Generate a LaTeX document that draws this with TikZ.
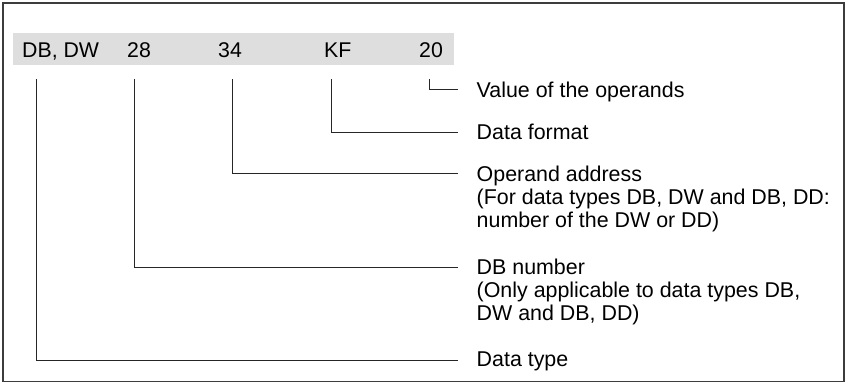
\documentclass[tikz,border=0pt]{standalone}
\usepackage{fontspec}
\setmainfont{Liberation Sans}
\usetikzlibrary{positioning,calc}
\definecolor{bandgray}{HTML}{DEDEDE}
\definecolor{framegray}{HTML}{3C3C3C}

\begin{document}
\begin{tikzpicture}[x=1pt,y=-1pt,
  field/.style={anchor=base west,inner sep=0pt,font=\fontsize{21.3}{23}\selectfont},
  lbl/.style={anchor=north west,inner sep=0pt,align=left,font=\fontsize{21.4}{23}\selectfont},
  lead/.style={line width=1pt,black!85}]
\useasboundingbox (0,0) rectangle (847,383);
% frame and grey band
\draw[framegray,line width=1.1pt] (3,3) rectangle (844,381.5);
\fill[bandgray] (13,33) rectangle (454,65);
% fields of the line
\node[field] (dtype) at (22,57.5) {DB, DW};
\node[field] (dbno) at (127,57.5) {28};
\node[field] (addr) at (218,57.5) {34};
\node[field] (fmt) at (324,57.5) {KF};
\node[field] (val) at (419,57.5) {20};
% explanations
\node[lbl] (valtxt) at (476.5,81.5) {Value of the operands};
\node[lbl] (fmttxt) at (476.5,124) {Data format};
\node[lbl] (addrtxt) at (476.5,165.5) {Operand address\\(For data types DB, DW and DB, DD:\\number of the DW or DD)};
\node[lbl] (dbnotxt) at (476.5,259) {DB number\\(Only applicable to data types DB,\\DW and DB, DD)};
\node[lbl] (dtypetxt) at (476.5,352) {Data type};
% leader lines
\coordinate (t1) at (36,79);
\coordinate (t2) at (134,79);
\coordinate (t3) at (232,79);
\coordinate (t4) at (331,79);
\coordinate (t5) at (429.5,79);
\draw[lead] (t5) |- ($(valtxt.north west)+(-18.5,8)$);
\draw[lead] (t4) |- ($(fmttxt.north west)+(-18.5,8)$);
\draw[lead] (t3) |- ($(addrtxt.north west)+(-18.5,8)$);
\draw[lead] (t2) |- ($(dbnotxt.north west)+(-18.5,8)$);
\draw[lead] (t1) |- ($(dtypetxt.north west)+(-18.5,8)$);
\end{tikzpicture}
\end{document}
